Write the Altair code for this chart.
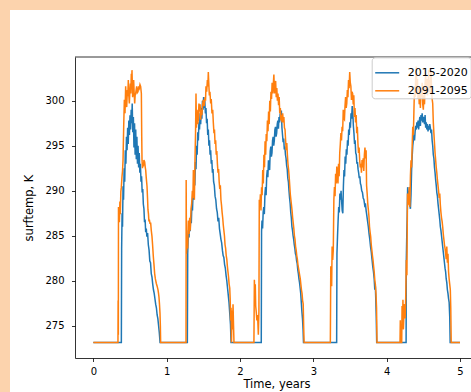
import altair as alt
import pandas as pd

series_names = ["2015-2020", "2091-2095"]
series_colors = ["#1f77b4", "#ff7f0e"]
x_ticks = [0, 1, 2, 3, 4, 5]
y_ticks = [275, 280, 285, 290, 295, 300]

time_2015 = [
    0.000, 0.382, 0.386, 0.392, 0.398, 0.405, 0.412, 0.420, 0.428, 0.436, 0.444, 0.452, 0.460, 0.468, 0.476,
    0.484, 0.492, 0.500, 0.508, 0.516, 0.524, 0.530, 0.538, 0.546, 0.554, 0.562, 0.570, 0.578, 0.586, 0.594,
    0.602, 0.610, 0.618, 0.626, 0.634, 0.642, 0.650, 0.658, 0.666, 0.674, 0.682, 0.690, 0.698, 0.706, 0.714,
    0.722, 0.730, 0.740, 0.750, 0.760, 0.770, 0.780, 0.790, 0.800, 0.810, 0.820, 0.830, 0.840, 0.850, 0.860,
    0.870, 0.880, 0.890, 0.900, 0.910,
    1.282, 1.287, 1.296, 1.305, 1.312, 1.320, 1.328, 1.336, 1.344, 1.352, 1.360, 1.368, 1.376, 1.384, 1.392,
    1.400, 1.408, 1.416, 1.424, 1.432, 1.440, 1.448, 1.456, 1.464, 1.472, 1.480, 1.488, 1.496, 1.504, 1.512,
    1.520, 1.528, 1.536, 1.544, 1.552, 1.560, 1.568, 1.576, 1.584, 1.592, 1.600, 1.608, 1.616, 1.624, 1.632,
    1.640, 1.650, 1.660, 1.670, 1.680, 1.690, 1.700, 1.710, 1.720, 1.730, 1.740, 1.750, 1.760, 1.770, 1.780,
    1.790, 1.800, 1.810, 1.820, 1.830, 1.840, 1.850, 1.860, 1.870, 1.878,
    2.290, 2.294, 2.300, 2.308, 2.316, 2.324, 2.332, 2.340, 2.348, 2.356, 2.364, 2.372, 2.380, 2.388, 2.396,
    2.404, 2.412, 2.420, 2.428, 2.436, 2.444, 2.452, 2.460, 2.468, 2.476, 2.484, 2.492, 2.500, 2.508, 2.516,
    2.524, 2.532, 2.540, 2.548, 2.556, 2.564, 2.572, 2.580, 2.588, 2.596, 2.604, 2.612, 2.620, 2.628, 2.636,
    2.644, 2.652, 2.660, 2.668, 2.676, 2.684, 2.692, 2.700, 2.708, 2.716, 2.724, 2.732, 2.740, 2.748, 2.756,
    2.764, 2.772, 2.780, 2.788, 2.796, 2.804, 2.812, 2.820, 2.828, 2.836, 2.844, 2.852, 2.860, 2.866,
    3.318, 3.322, 3.330, 3.338, 3.346, 3.354, 3.362, 3.370, 3.378, 3.386, 3.394, 3.402, 3.410, 3.418, 3.426,
    3.434, 3.442, 3.450, 3.458, 3.466, 3.474, 3.482, 3.490, 3.498, 3.506, 3.514, 3.522, 3.530, 3.538, 3.546,
    3.554, 3.562, 3.570, 3.578, 3.586, 3.594, 3.602, 3.610, 3.618, 3.626, 3.634, 3.642, 3.650, 3.660, 3.670,
    3.680, 3.690, 3.700, 3.710, 3.720, 3.730, 3.740, 3.750, 3.760, 3.770, 3.780, 3.790, 3.800, 3.810, 3.820,
    3.830, 3.838, 3.846, 3.852, 3.858, 3.864,
    4.265, 4.268, 4.274, 4.280, 4.286, 4.292, 4.300, 4.308, 4.316, 4.324, 4.332, 4.340, 4.348, 4.356, 4.364,
    4.372, 4.380, 4.388, 4.396, 4.404, 4.412, 4.420, 4.428, 4.436, 4.444, 4.452, 4.460, 4.468, 4.476, 4.484,
    4.492, 4.500, 4.508, 4.516, 4.524, 4.532, 4.540, 4.548, 4.556, 4.564, 4.572, 4.580, 4.588, 4.596, 4.604,
    4.612, 4.620, 4.628, 4.636, 4.644, 4.652, 4.660, 4.668, 4.676, 4.684, 4.692, 4.700, 4.708, 4.716, 4.724,
    4.732, 4.740, 4.748, 4.756, 4.764, 4.772, 4.780, 4.788, 4.796, 4.804, 4.812, 4.820, 4.828, 4.836, 4.844,
    4.852, 4.860, 4.866, 5.000,
]
temp_2015 = [
    273.15, 273.15, 283.5, 287.5, 286.0, 290.5, 289.0, 292.5, 291.0, 294.5, 293.0, 296.0, 294.5, 297.0, 295.2,
    297.8, 296.2, 298.4, 296.8, 299.0, 297.5, 299.7, 296.5, 298.2, 294.8, 297.5, 294.0, 296.8, 293.5, 296.0,
    293.0, 295.0, 292.6, 294.2, 292.0, 293.0, 291.0, 291.6, 289.8, 290.2, 288.5, 288.0, 286.5, 286.8, 285.4,
    285.8, 284.9, 285.3, 284.0, 283.4, 282.2, 282.0, 280.8, 280.4, 279.6, 279.0, 278.6, 278.0, 277.4, 277.0,
    276.2, 275.8, 275.0, 274.2, 273.15,
    273.15, 283.0, 285.6, 284.8, 286.5, 285.5, 287.2, 286.4, 288.5, 287.8, 289.8, 289.0, 291.5, 290.6, 293.2,
    292.4, 295.0, 294.0, 296.5, 295.6, 297.6, 296.8, 298.6, 297.4, 299.2, 298.0, 300.0, 299.0, 300.4, 299.2,
    300.0, 298.6, 299.2, 297.5, 298.0, 296.2, 296.8, 295.0, 295.6, 294.0, 294.5, 293.0, 293.4, 292.0, 292.4,
    291.0, 290.6, 289.4, 289.0, 288.0, 287.6, 286.6, 287.0, 285.8, 285.2, 284.6, 284.2, 283.4, 282.8, 282.6,
    281.8, 281.4, 280.6, 280.0, 279.2, 278.4, 277.6, 276.4, 275.2, 273.15,
    273.15, 285.5, 286.7, 285.8, 287.6, 288.2, 287.4, 289.6, 290.4, 289.5, 291.6, 292.3, 291.5, 293.4, 292.6,
    292.3, 294.4, 294.9, 293.8, 294.2, 295.6, 296.0, 295.0, 295.6, 296.8, 297.1, 296.0, 296.4, 297.4, 297.8,
    296.9, 298.2, 297.6, 298.6, 298.0, 298.9, 297.0, 296.2, 295.4, 295.8, 294.6, 294.9, 294.0, 293.6, 292.8,
    292.4, 291.4, 291.0, 290.0, 289.2, 288.6, 287.6, 287.0, 286.0, 285.6, 285.0, 284.6, 284.0, 283.6, 283.0,
    282.8, 282.2, 281.9, 281.2, 280.8, 280.2, 279.8, 279.2, 278.6, 277.6, 276.6, 275.8, 274.6, 273.15,
    273.15, 283.0, 285.0, 286.7, 288.2, 287.6, 289.7, 289.0, 290.0, 288.8, 287.8, 287.5, 290.5, 292.3, 291.6,
    293.8, 293.0, 294.6, 294.0, 295.6, 295.0, 296.8, 296.2, 297.6, 297.0, 298.6, 298.0, 299.4, 298.8, 297.2,
    296.4, 295.2, 295.6, 294.2, 294.0, 293.0, 293.2, 292.4, 292.0, 291.4, 291.6, 290.8, 290.6, 290.0, 289.8,
    289.2, 289.0, 288.4, 288.6, 287.8, 287.2, 286.6, 286.0, 285.2, 284.6, 283.8, 283.2, 282.4, 281.6, 281.0,
    280.2, 279.0, 279.4, 277.8, 276.0, 273.15,
    273.15, 282.3, 285.0, 287.2, 290.4, 289.8, 290.0, 289.2, 288.4, 288.0, 289.6, 292.3, 293.8, 295.0, 295.6,
    296.2, 295.6, 296.6, 297.2, 296.8, 297.6, 297.0, 297.8, 296.8, 297.6, 298.2, 297.2, 298.4, 297.8, 298.6,
    297.6, 298.2, 298.0, 297.4, 298.4, 297.0, 297.6, 296.8, 297.4, 296.6, 297.2, 296.8, 297.4, 297.0, 296.4,
    296.8, 295.6, 295.0, 294.0, 293.6, 292.6, 292.0, 291.2, 290.6, 289.8, 289.4, 288.6, 288.0, 287.4, 286.8,
    286.0, 285.6, 285.0, 284.4, 283.8, 283.2, 282.6, 282.0, 281.4, 281.0, 280.2, 279.8, 279.0, 278.6, 278.0,
    277.6, 276.0, 273.15, 273.15,
]

time_2091 = [
    0.000, 0.336, 0.338, 0.341, 0.343, 0.350, 0.355, 0.362, 0.368, 0.375, 0.382, 0.390, 0.398, 0.405, 0.414,
    0.423, 0.432, 0.441, 0.448, 0.455, 0.464, 0.470, 0.477, 0.484, 0.491, 0.498, 0.505, 0.511, 0.518, 0.523,
    0.527, 0.536, 0.543, 0.550, 0.557, 0.564, 0.570, 0.577, 0.584, 0.591, 0.600, 0.609, 0.618, 0.627, 0.636,
    0.645, 0.655, 0.660, 0.664, 0.670, 0.676, 0.682, 0.690, 0.700, 0.708, 0.714, 0.722, 0.732, 0.740, 0.745,
    0.752, 0.758, 0.764, 0.772, 0.782, 0.790, 0.800, 0.808, 0.818, 0.826, 0.836, 0.846, 0.859, 0.870, 0.882,
    0.889, 0.895, 0.902, 0.909, 0.914, 0.918,
    1.264, 1.266, 1.270, 1.278, 1.286, 1.296, 1.305, 1.314, 1.322, 1.332, 1.341, 1.350, 1.358, 1.364, 1.372,
    1.378, 1.386, 1.394, 1.400, 1.406, 1.414, 1.422, 1.432, 1.440, 1.448, 1.456, 1.464, 1.472, 1.480, 1.490,
    1.500, 1.510, 1.523, 1.530, 1.536, 1.546, 1.555, 1.562, 1.568, 1.575, 1.582, 1.590, 1.600, 1.608, 1.618,
    1.628, 1.636, 1.645, 1.652, 1.660, 1.668, 1.676, 1.684, 1.692, 1.700, 1.708, 1.716, 1.724, 1.732, 1.740,
    1.748, 1.756, 1.764, 1.772, 1.780, 1.788, 1.796, 1.804, 1.812, 1.820, 1.828, 1.836, 1.844, 1.852, 1.860,
    1.866, 1.872, 1.878, 1.884, 1.892, 1.898, 1.905, 1.912, 1.918,
    2.190, 2.196, 2.202, 2.208, 2.214, 2.222, 2.230, 2.240, 2.250, 2.258, 2.263, 2.270, 2.278, 2.286, 2.294,
    2.302, 2.310, 2.318, 2.326, 2.334, 2.342, 2.350, 2.358, 2.366, 2.374, 2.382, 2.390, 2.398, 2.406, 2.414,
    2.422, 2.430, 2.438, 2.446, 2.454, 2.462, 2.470, 2.478, 2.486, 2.494, 2.502, 2.510, 2.518, 2.526, 2.534,
    2.542, 2.550, 2.558, 2.566, 2.574, 2.582, 2.590, 2.598, 2.606, 2.614, 2.622, 2.630, 2.638, 2.646, 2.654,
    2.662, 2.670, 2.678, 2.686, 2.694, 2.702, 2.710, 2.718, 2.726, 2.734, 2.742, 2.750, 2.758, 2.766, 2.774,
    2.782, 2.790, 2.798, 2.806, 2.814, 2.822, 2.830, 2.838, 2.846, 2.854, 2.862, 2.868, 2.874,
    3.232, 3.238, 3.244, 3.250, 3.256, 3.264, 3.272, 3.280, 3.288, 3.296, 3.304, 3.312, 3.320, 3.328, 3.336,
    3.344, 3.352, 3.360, 3.368, 3.376, 3.384, 3.392, 3.400, 3.408, 3.416, 3.424, 3.432, 3.440, 3.448, 3.456,
    3.464, 3.472, 3.480, 3.488, 3.496, 3.504, 3.512, 3.520, 3.528, 3.536, 3.544, 3.552, 3.560, 3.568, 3.576,
    3.584, 3.592, 3.600, 3.608, 3.616, 3.624, 3.632, 3.640, 3.648, 3.656, 3.664, 3.672, 3.680, 3.688, 3.696,
    3.704, 3.712, 3.720, 3.726, 3.734, 3.742, 3.750, 3.758, 3.766, 3.774, 3.782, 3.790, 3.798, 3.806, 3.814,
    3.822, 3.830, 3.838, 3.846, 3.854, 3.862, 3.868,
    4.182, 4.186, 4.190, 4.205, 4.210, 4.216, 4.222, 4.228, 4.236, 4.244, 4.252, 4.260, 4.268, 4.276, 4.284,
    4.292, 4.300, 4.308, 4.316, 4.324, 4.332, 4.340, 4.348, 4.356, 4.364, 4.372, 4.380, 4.388, 4.396, 4.404,
    4.412, 4.420, 4.428, 4.436, 4.444, 4.452, 4.460, 4.468, 4.476, 4.484, 4.492, 4.500, 4.508, 4.516, 4.524,
    4.532, 4.540, 4.548, 4.556, 4.564, 4.572, 4.580, 4.588, 4.596, 4.604, 4.612, 4.620, 4.628, 4.636, 4.644,
    4.652, 4.660, 4.668, 4.676, 4.684, 4.692, 4.700, 4.708, 4.716, 4.724, 4.732, 4.740, 4.748, 4.756, 4.764,
    4.772, 4.780, 4.788, 4.796, 4.804, 4.812, 4.820, 4.828, 4.836, 4.844, 4.852, 4.860, 4.868, 4.874, 4.880,
    5.000,
]
temp_2091 = [
    273.15, 273.15, 277.8, 274.0, 288.2, 288.0, 286.5, 288.8, 287.4, 289.9, 290.4, 291.5, 292.2, 293.4, 297.1,
    300.1, 298.6, 301.6, 299.8, 299.3, 301.2, 300.5, 302.3, 300.6, 299.7, 301.0, 301.9, 300.8, 303.0, 301.5,
    303.4, 300.4, 301.2, 302.3, 300.8, 299.7, 300.6, 300.8, 301.2, 301.6, 300.9, 301.0, 301.6, 301.4, 301.8,
    301.6, 300.8, 296.0, 293.4, 292.5, 293.0, 292.7, 293.4, 293.2, 292.6, 292.3, 291.4, 290.5, 289.0, 287.9,
    287.4, 286.6, 286.8, 286.4, 286.4, 285.6, 284.9, 284.0, 282.7, 281.9, 280.8, 280.2, 279.7, 279.4, 279.0,
    278.6, 278.2, 277.4, 276.4, 275.0, 273.15,
    273.15, 291.2, 283.0, 284.6, 283.6, 286.7, 285.2, 287.0, 285.6, 288.0, 288.6, 290.0, 289.2, 292.3, 290.0,
    289.0, 293.4, 296.5, 300.8, 297.0, 299.0, 297.4, 297.9, 299.7, 298.8, 299.6, 297.9, 299.0, 298.4, 299.6,
    300.1, 299.4, 300.4, 300.0, 301.6, 301.0, 302.3, 301.6, 303.2, 301.8, 300.6, 301.0, 299.7, 300.2, 298.6,
    299.0, 297.6, 296.4, 296.8, 295.2, 295.6, 294.0, 294.4, 293.0, 292.0, 292.4, 291.0, 290.2, 290.6, 289.0,
    288.4, 287.6, 287.0, 286.2, 285.6, 285.0, 284.0, 283.6, 282.8, 282.4, 281.6, 281.0, 280.4, 279.6, 279.2,
    278.0, 275.6, 277.0, 273.15, 276.7, 274.6, 277.4, 275.0, 273.15,
    273.15, 280.1, 278.5, 279.6, 277.2, 276.5, 275.6, 276.2, 274.0, 276.6, 289.0, 288.2, 289.6, 287.8, 290.4,
    289.5, 292.3, 290.8, 294.0, 292.6, 295.5, 294.0, 296.3, 295.5, 297.8, 296.6, 298.8, 297.4, 300.0, 298.8,
    301.0, 300.2, 302.0, 300.8, 301.8, 302.9, 300.8, 301.6, 302.2, 300.4, 301.4, 300.0, 300.8, 299.5, 300.4,
    298.6, 299.2, 297.8, 298.4, 297.6, 298.6, 297.6, 298.2, 297.0, 296.8, 295.6, 294.5, 295.3, 294.0, 293.0,
    292.4, 291.6, 290.6, 289.6, 289.0, 288.4, 287.8, 287.0, 286.4, 285.8, 285.0, 284.6, 283.8, 283.4, 282.8,
    282.4, 281.8, 281.4, 281.0, 280.6, 280.2, 279.6, 279.0, 278.6, 277.8, 277.4, 275.0, 273.15,
    273.15, 281.6, 280.6, 279.4, 283.8, 282.3, 283.4, 289.0, 290.4, 289.4, 291.9, 290.8, 292.7, 291.6, 290.8,
    293.0, 291.6, 294.2, 295.2, 296.4, 295.6, 297.1, 296.6, 299.0, 298.0, 297.9, 299.4, 300.4, 299.2, 299.7,
    301.2, 300.4, 302.3, 301.4, 303.2, 302.0, 301.6, 300.1, 301.0, 300.8, 299.6, 300.6, 298.2, 299.2, 297.6,
    298.4, 296.4, 297.1, 295.3, 294.2, 294.8, 293.4, 292.6, 293.0, 292.0, 293.4, 292.6, 293.6, 292.2, 294.0,
    294.8, 293.6, 294.5, 290.6, 289.7, 288.6, 287.9, 287.2, 286.0, 285.4, 284.9, 284.0, 283.4, 282.8, 282.3,
    281.6, 281.0, 280.1, 279.6, 278.6, 277.0, 273.15,
    273.15, 275.6, 273.15, 273.15, 277.2, 275.0, 277.9, 274.6, 276.4, 277.4, 275.8, 278.2, 282.3, 280.6, 289.7,
    288.4, 289.0, 290.4, 288.2, 291.6, 293.4, 292.6, 295.0, 297.1, 296.2, 299.0, 301.6, 300.4, 302.6, 303.8,
    301.0, 302.4, 300.2, 301.6, 299.6, 300.8, 299.2, 301.4, 300.4, 302.0, 299.6, 299.0, 300.6, 299.6, 301.8,
    303.0, 301.2, 302.4, 300.6, 301.6, 303.4, 301.0, 302.3, 300.8, 303.6, 301.4, 300.2, 299.7, 297.6, 296.4,
    295.3, 294.2, 293.4, 292.6, 292.0, 291.2, 290.6, 290.0, 289.2, 289.7, 288.4, 287.6, 287.0, 286.6, 286.0,
    285.2, 284.6, 284.0, 283.6, 283.0, 282.4, 283.8, 282.0, 283.0, 281.0, 280.2, 279.6, 279.0, 277.0, 273.15,
    273.15,
]

frames = []
for name, tt, vv in [(series_names[0], time_2015, temp_2015), (series_names[1], time_2091, temp_2091)]:
    frames.append(pd.DataFrame({"t": tt, "T": vv, "series": name, "idx": list(range(len(tt)))}))
df = pd.concat(frames, ignore_index=True)

W, H = 396, 301
FONT = "DejaVu Sans"
PEACH = "#fcd3ad"

xscale = alt.Scale(domain=[-0.25, 5.15], nice=False, zero=False)
yscale = alt.Scale(domain=[271.42, 304.86], nice=False, zero=False)

one = pd.DataFrame({"k": [0]})

# peach frame strips (left and top) outside the white panel
left_strip = alt.Chart(one).mark_rect(color=PEACH).encode(
    x=alt.value(-76), x2=alt.value(-65), y=alt.value(-58), y2=alt.value(H + 40)
)
top_strip = alt.Chart(one).mark_rect(color=PEACH).encode(
    x=alt.value(-76), x2=alt.value(W + 5), y=alt.value(-58), y2=alt.value(-47)
)

lines = alt.Chart(df).mark_line(strokeWidth=1.5, clip=True).encode(
    x=alt.X("t:Q", scale=xscale,
            axis=alt.Axis(values=x_ticks, format="d", title="Time, years",
                          labelPadding=5, titleX=201.5, titleY=29.5, zindex=1,
                          titleAlign="center", titleBaseline="alphabetic")),
    y=alt.Y("T:Q", scale=yscale,
            axis=alt.Axis(values=y_ticks, format="d", title="surftemp, K",
                          labelPadding=7.5, titleX=-46, titleY=150.5, zindex=1,
                          titleAlign="center", titleBaseline="middle", titleAngle=270)),
    color=alt.Color("series:N",
                    scale=alt.Scale(domain=series_names, range=series_colors),
                    legend=alt.Legend(title=None, orient="none", legendX=296.7, legendY=0.3,
                                      symbolType="stroke", symbolSize=576, symbolStrokeWidth=1.5,
                                      labelFont=FONT, labelFontSize=11, labelColor="black",
                                      labelOffset=7.5, padding=2.5, rowPadding=-7.4,
                                      fillColor="rgba(255,255,255,0.8)", strokeColor="#cccccc",
                                      cornerRadius=3)),
    order="idx:Q",
)

top_spine = alt.Chart(one).mark_rule(color="black", strokeWidth=0.8).encode(
    x=alt.value(0), x2=alt.value(W), y=alt.value(0)
)

chart = alt.layer(left_strip, top_strip, lines, top_spine).properties(
    width=W, height=H,
    background="white",
    padding={"left": 75, "top": 57, "right": 0, "bottom": 34},
    autosize=alt.AutoSizeParams(type="none"),
).configure_view(stroke=None).configure_axis(
    grid=False, domainColor="black", domainWidth=0.8, tickColor="black", tickWidth=0.8,
    tickSize=3.5, labelFont=FONT, labelFontSize=10, labelColor="black",
    titleFont=FONT, titleFontSize=11.5, titleFontWeight="normal", titleColor="black",
    labelFlush=False,
)

chart.save("out.html", embed_options={"renderer": "svg", "actions": False})
